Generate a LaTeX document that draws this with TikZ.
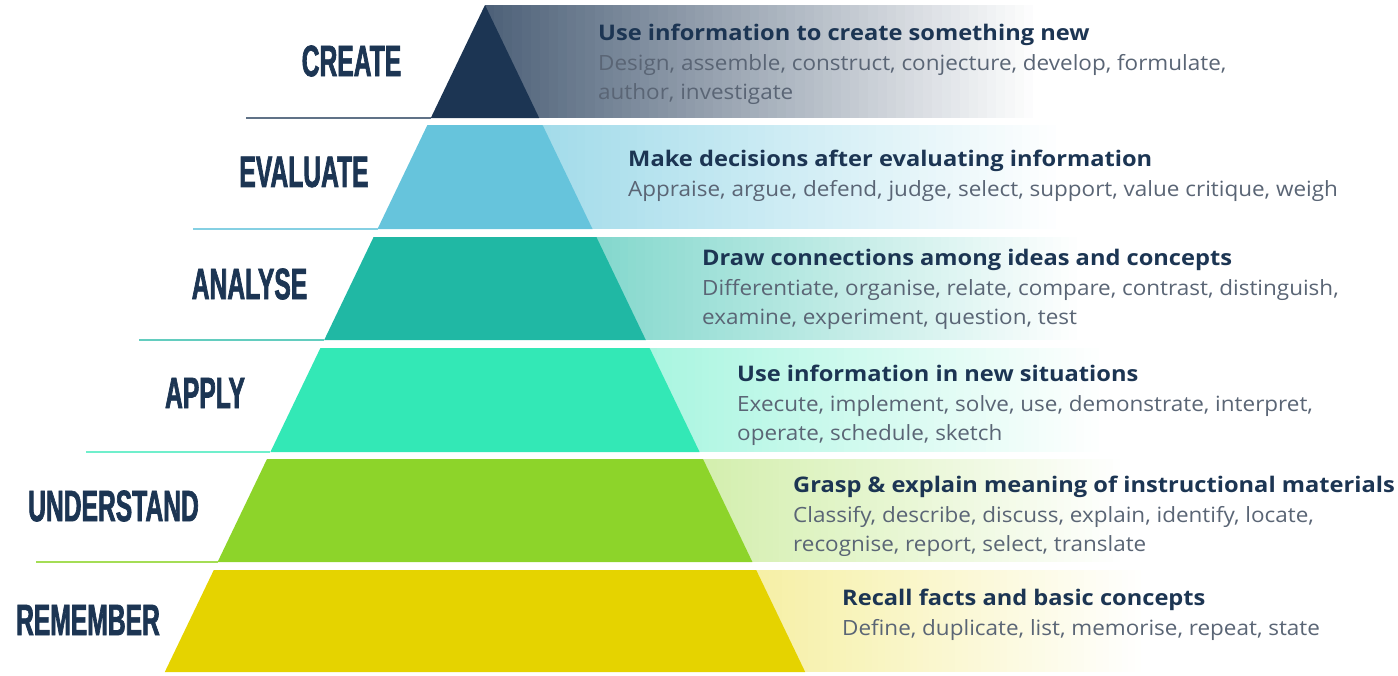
\documentclass[tikz,border=0pt]{standalone}
\usepackage{fontspec}
\setmainfont{Open Sans}
\newfontfamily\levelfont[FakeStretch=0.56,FakeBold=1.5]{Liberation Sans}
\newfontfamily\headfont[FakeStretch=1.1]{Open Sans}
\newfontfamily\bodyfont[FakeStretch=1.07]{Open Sans}
\usetikzlibrary{positioning}

\definecolor{navy}{HTML}{1C3553}
\definecolor{bodygrey}{HTML}{5A6575}
\definecolor{createcol}{HTML}{1C3553}
\definecolor{evalcol}{HTML}{66C4DC}
\definecolor{analysecol}{HTML}{20B8A4}
\definecolor{applycol}{HTML}{33E8B6}
\definecolor{understandcol}{HTML}{8DD42A}
\definecolor{remembercol}{HTML}{E5D300}

\tikzset{
    level/.style={font=\levelfont\bfseries\fontsize{44}{44}\selectfont, text=navy, inner sep=0pt},
    desc/.style={font=\bodyfont\fontsize{21}{29.5}\selectfont, text=bodygrey, align=left, anchor=north west, inner sep=0pt},
    rule/.style={line width=2pt}
}
\newcommand{\headtext}[1]{{\headfont\bfseries\fontsize{21.5}{29.5}\selectfont\color{navy}#1}}

\begin{document}
\begin{tikzpicture}[x=1pt, y=-1pt]
    \useasboundingbox (0,0) rectangle (1398,675);

    % bands behind the descriptions, fading to white
    \foreach \col/\tint/\ytop/\ybot/\xs in {createcol/78/5/118/485, evalcol/60/125/229/542.6, analysecol/55/237/340/596.4, applycol/42/348/452/649.6, understandcol/38/459/562/703, remembercol/35/570/672/756.2}{
        \pgfmathsetmacro\xstep{0.6*(1398-\xs)/60}
        \foreach \i in {0,...,60}{
            \pgfmathsetmacro\xi{\xs+\xstep*\i}
            \pgfmathsetmacro\ti{\tint*(1-\i/60)}
            \fill[\col!\ti] (\xi,\ytop) rectangle (1398,\ybot);
        }
    }

    % pyramid
    \fill[createcol] (485,5) -- (539.2,118) -- (430.8,118) -- cycle;
    \fill[evalcol] (427.4,125) -- (542.6,125) -- (592.5,229) -- (377.5,229) -- cycle;
    \fill[analysecol] (373.6,237) -- (596.4,237) -- (645.8,340) -- (324.2,340) -- cycle;
    \fill[applycol] (320.4,348) -- (649.6,348) -- (699.6,452) -- (270.4,452) -- cycle;
    \fill[understandcol] (267,459) -- (703,459) -- (752.4,562) -- (217.6,562) -- cycle;
    \fill[remembercol] (213.8,570) -- (756.2,570) -- (805.2,672) -- (164.8,672) -- cycle;

    % rules under the level names
    \draw[rule, color=createcol!70] (246,118) -- (430.8,118);
    \draw[rule, color=evalcol!80] (193,229) -- (377.5,229);
    \draw[rule, color=analysecol!70] (139,340) -- (324.2,340);
    \draw[rule, color=applycol!70] (86,452) -- (270.4,452);
    \draw[rule, color=understandcol!80] (36,562) -- (217.6,562);

    % level names
    \node[level] (create) at (351.5,61) {CREATE};
    \node[level] (evaluate) at (304,172) {EVALUATE};
    \node[level] (analyse) at (249.5,284) {ANALYSE};
    \node[level] (apply) at (205,393) {APPLY};
    \node[level] (understand) at (113.5,506) {UNDERSTAND};
    \node[level] (remember) at (88,620) {REMEMBER};

    % descriptions
    \node[desc] (dcreate) at (598,24) {\headtext{Use information to create something new}\\Design, assemble, construct, conjecture, develop, formulate,\\author, investigate};
    \node[desc] (devaluate) at (628,150) {\headtext{Make decisions after evaluating information}\\Appraise, argue, defend, judge, select, support, value critique, weigh};
    \node[desc] (danalyse) at (702,249) {\headtext{Draw connections among ideas and concepts}\\Differentiate, organise, relate, compare, contrast, distinguish,\\examine, experiment, question, test};
    \node[desc] (dapply) at (737,365) {\headtext{Use information in new situations}\\Execute, implement, solve, use, demonstrate, interpret,\\operate, schedule, sketch};
    \node[desc] (dunderstand) at (793,476) {\headtext{Grasp \& explain meaning of instructional materials}\\Classify, describe, discuss, explain, identify, locate,\\recognise, report, select, translate};
    \node[desc] (dremember) at (842,589) {\headtext{Recall facts and basic concepts}\\Define, duplicate, list, memorise, repeat, state};
\end{tikzpicture}
\end{document}
